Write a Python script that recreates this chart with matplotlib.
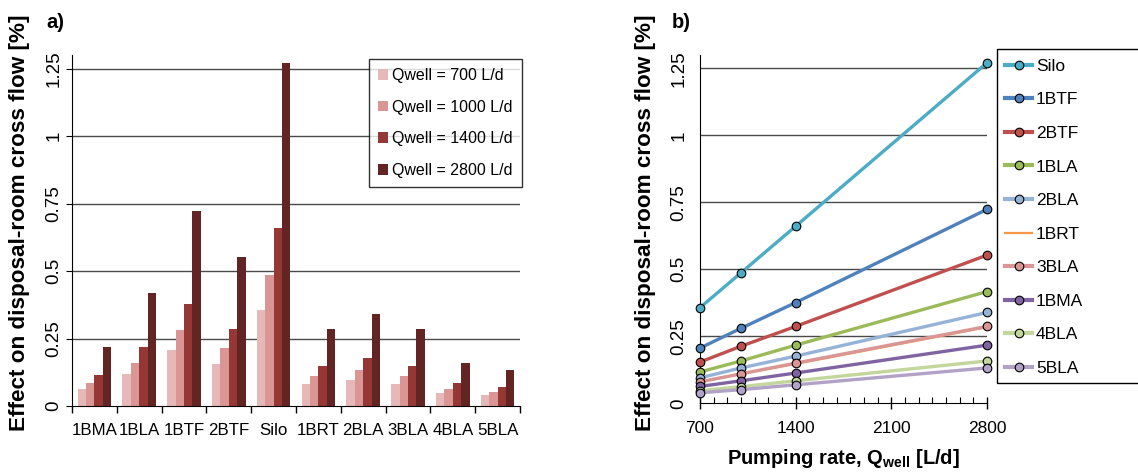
import matplotlib
matplotlib.use("Agg")
import matplotlib.pyplot as plt
import numpy as np
from matplotlib.patches import Rectangle
from matplotlib.ticker import MultipleLocator

plt.rcParams["font.family"] = ["Liberation Sans", "DejaVu Sans"]
plt.rcParams["mathtext.fontset"] = "custom"
plt.rcParams["mathtext.rm"] = "Liberation Sans"
plt.rcParams["mathtext.bf"] = "Liberation Sans:bold"

# Data
sites = ["1BMA", "1BLA", "1BTF", "2BTF", "Silo", "1BRT", "2BLA", "3BLA", "4BLA", "5BLA"]
rates = [700, 1000, 1400, 2800]
effect = {
    "1BMA": [0.063, 0.084, 0.113, 0.217],
    "1BLA": [0.117, 0.158, 0.217, 0.417],
    "1BTF": [0.206, 0.280, 0.376, 0.724],
    "2BTF": [0.154, 0.213, 0.287, 0.553],
    "Silo": [0.357, 0.487, 0.661, 1.271],
    "1BRT": [0.080, 0.110, 0.147, 0.284],
    "2BLA": [0.095, 0.132, 0.176, 0.339],
    "3BLA": [0.080, 0.110, 0.150, 0.287],
    "4BLA": [0.047, 0.062, 0.084, 0.158],
    "5BLA": [0.039, 0.051, 0.069, 0.132],
}
bar_colors = ["#E6B9B8", "#D99694", "#953735", "#632523"]
line_order = ["Silo", "1BTF", "2BTF", "1BLA", "2BLA", "1BRT", "3BLA", "1BMA", "4BLA", "5BLA"]
line_colors = {
    "Silo": "#4BACC6", "1BTF": "#4F81BD", "2BTF": "#C0504D", "1BLA": "#9BBB59",
    "2BLA": "#95B3D7", "1BRT": "#F79646", "3BLA": "#DA9694", "1BMA": "#8064A2",
    "4BLA": "#C3D69B", "5BLA": "#B3A2C7",
}
yticks = [0, 0.25, 0.5, 0.75, 1, 1.25]
ytick_labels = ["0", "0.25", "0.5", "0.75", "1", "1.25"]

W, H = 1138, 472
fig = plt.figure(figsize=(W / 100, H / 100), dpi=100)

grid_kw = dict(color="#4a4a4a", linewidth=1.0, zorder=0)

# ---- panel a) ----
ax1 = fig.add_axes([72 / W, 1 - 406 / H, (520 - 72) / W, (406 - 55) / H])
x = np.arange(len(sites))
bw = 0.1875
for j, q in enumerate(rates):
    vals = [effect[s][j] for s in sites]
    ax1.bar(x + (j - 1.5) * bw, vals, width=bw, color=bar_colors[j],
            label=f"Qwell = {q} L/d", zorder=2)
ax1.set_xlim(-0.5, len(sites) - 0.5)
ax1.set_ylim(0, 1.3)
ax1.set_xticks(np.arange(-0.5, len(sites)), labels=[])
ax1.set_xticks(x, labels=sites, minor=True)
ax1.tick_params(axis="x", which="major", direction="out", length=5, width=1)
ax1.tick_params(axis="x", which="minor", length=0, labelsize=12.2, pad=12)
ax1.set_yticks(yticks, labels=ytick_labels)
ax1.tick_params(axis="y", direction="out", length=4, labelsize=13.5, pad=3)
for lab in ax1.get_yticklabels():
    lab.set_rotation(90)
    lab.set_va("center")
for yv in yticks[1:]:
    ax1.axhline(yv, **grid_kw)
for sp in ["top", "right"]:
    ax1.spines[sp].set_visible(False)
leg1 = ax1.legend(loc="upper left", bbox_to_anchor=(369 / W, 1 - 59 / H),
                  bbox_transform=fig.transFigure, fontsize=11.5, frameon=True,
                  fancybox=False, edgecolor="black", handlelength=0.65,
                  handleheight=0.65, handletextpad=0.25, labelspacing=1.05,
                  borderpad=0.55, borderaxespad=0)
leg1.get_frame().set_linewidth(1.0)

# ---- panel b) ----
ax2 = fig.add_axes([700 / W, 1 - 403.3 / H, (987 - 700) / W, (403.3 - 55) / H])
for s in line_order:
    if s == "1BRT":
        ax2.plot(rates, effect[s], color=line_colors[s], linewidth=1.6, label=s, zorder=3)
    else:
        ax2.plot(rates, effect[s], color=line_colors[s], linewidth=2.4, marker="o",
                 markersize=6.2, markeredgecolor="black", markeredgewidth=0.8,
                 label=s, zorder=3, clip_on=False)
ax2.set_xlim(700, 2800)
ax2.set_ylim(0, 1.3)
ax2.set_xticks([700, 1400, 2100, 2800])
ax2.xaxis.set_minor_locator(MultipleLocator(100))
ax2.tick_params(axis="x", which="major", direction="inout", length=9, width=1,
                labelsize=12.5, pad=8)
ax2.tick_params(axis="x", which="minor", direction="in", length=4, width=0.8)
ax2.set_yticks(yticks, labels=ytick_labels)
ax2.tick_params(axis="y", length=0, labelsize=13.5, pad=9)
for lab in ax2.get_yticklabels():
    lab.set_rotation(90)
    lab.set_va("center")
for yv in yticks[1:]:
    ax2.axhline(yv, **grid_kw)
for sp in ["top", "right"]:
    ax2.spines[sp].set_visible(False)
leg2 = ax2.legend(loc="upper left", bbox_to_anchor=(996 / W, 1 - 50 / H),
                  bbox_transform=fig.transFigure, fontsize=12.5, frameon=False,
                  handlelength=1.6, handletextpad=0.2, labelspacing=1.06,
                  borderpad=0.5, borderaxespad=0)
for h in leg2.get_lines():
    if h.get_linewidth() > 2:
        h.set_linewidth(3.0)
# legend box runs past the right edge of the figure, as in the original
fig.patches.append(Rectangle((997 / W, 1 - 383 / H), (1160 - 997) / W, (383 - 49) / H,
                             transform=fig.transFigure, facecolor="none",
                             edgecolor="black", linewidth=1.0))

# Labels
ylab = "Effect on disposal-room cross flow [%]"
fig.text(20 / W, 1 - 223 / H, ylab, rotation=90, ha="center", va="center",
         fontsize=16.2, fontweight="bold")
fig.text(645 / W, 1 - 223 / H, ylab, rotation=90, ha="center", va="center",
         fontsize=16.2, fontweight="bold")
fig.text(843 / W, 1 - 459 / H, r"Pumping rate, Q$_\mathbf{well}$ [L/d]",
         ha="center", va="center", fontsize=14.5, fontweight="bold")
fig.text(46 / W, 1 - 22 / H, "a)", ha="left", va="center", fontsize=14.5, fontweight="bold")
fig.text(672 / W, 1 - 22 / H, "b)", ha="left", va="center", fontsize=14.5, fontweight="bold")

fig.savefig("out.png", dpi=100)
